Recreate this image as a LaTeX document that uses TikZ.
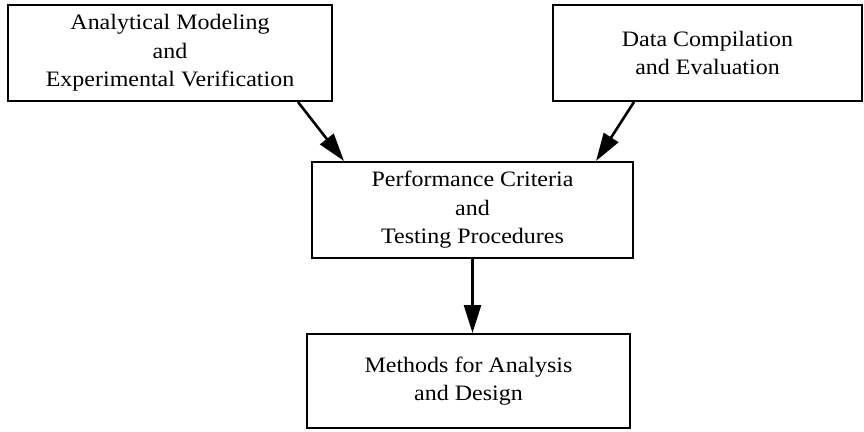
\documentclass[tikz,border=0pt]{standalone}
\usepackage{fontspec}
\setmainfont{Liberation Serif}[FakeStretch=1.09]
\usetikzlibrary{arrows.meta}

\tikzset{
  box/.style = {draw, line width=2pt, inner sep=0pt, align=center,
                font=\fontsize{22pt}{28.5pt}\selectfont},
  flow/.style = {-{Triangle[length=28pt,width=17pt]}, line width=2.6pt}
}

\begin{document}
\begin{tikzpicture}[x=1pt,y=-1pt]
    \useasboundingbox (0,0) rectangle (864,431);

    \node[box, minimum width=324pt, minimum height=96pt](modeling) at (170,53) {Analytical Modeling\\and\\Experimental Verification};
    \node[box, minimum width=309pt, minimum height=96pt](compilation) at (707.5,53) {Data Compilation\\and Evaluation};
    \node[box, minimum width=321pt, minimum height=96pt](criteria) at (472.5,210) {Performance Criteria\\and\\Testing Procedures};
    \node[box, minimum width=323pt, minimum height=94pt](methods) at (468.5,381) {Methods for Analysis\\and Design};

    \draw [flow] ([xshift=-35pt]modeling.south east) -- ([xshift=33pt]criteria.north west);
    \draw [flow] ([xshift=82pt]compilation.south west) -- ([xshift=-38pt]criteria.north east);
    \draw [flow] (criteria.south) -- (criteria.south |- methods.north);
\end{tikzpicture}
\end{document}
